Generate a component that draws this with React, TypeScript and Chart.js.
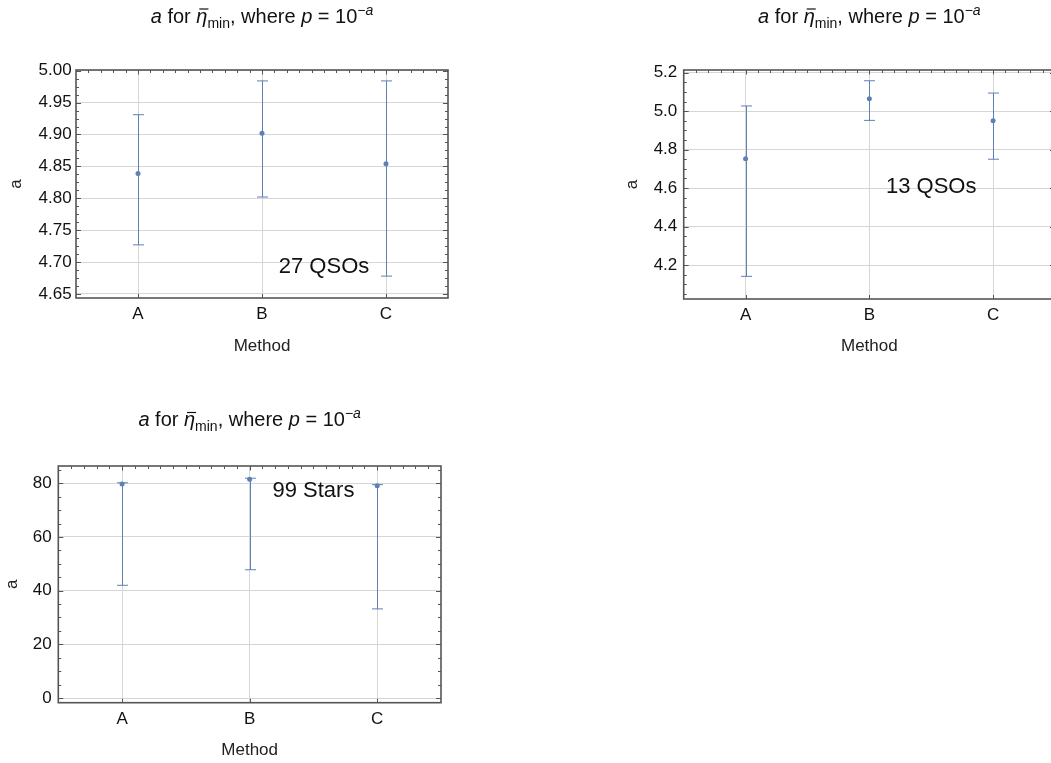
import React, { useEffect, useRef } from "react";
import { Chart, registerables } from "chart.js";

Chart.register(...registerables);

// Categories shared by all three panels
const methods = ["A", "B", "C"];

// 27 QSOs: central value and error-bar bounds of a
const qso27Value = [4.839, 4.902, 4.854];
const qso27Upper = [4.931, 4.984, 4.984];
const qso27Lower = [4.727, 4.802, 4.678];

// 13 QSOs
const qso13Value = [4.753, 5.065, 4.95];
const qso13Upper = [5.027, 5.158, 5.094];
const qso13Lower = [4.141, 4.952, 4.75];

// 99 Stars
const starsValue = [79.7, 81.5, 79.1];
const starsUpper = [80.2, 81.9, 79.5];
const starsLower = [42.0, 47.8, 33.2];

const FONT = '"Liberation Sans", Arial, Helvetica, sans-serif';
const BLUE = "#5e81b5";
const FRAME = "#555555";
const GRID = "#d6d6d6";

type PanelSpec = {
  box: { x: number; y: number; w: number; h: number };
  pad: { left: number; top: number; right: number; bottom: number };
  yWidth: number;
  xHeight: number;
  yTickPad: number;
  xTitlePad: number;
  yMin: number;
  yMax: number;
  yStep: number;
  decimals: number;
  titleBaseline: number;
  values: number[];
  upper: number[];
  lower: number[];
  note: string;
  noteAt: [number, number];
};

const panels: PanelSpec[] = [
  {
    box: { x: 0, y: 0, w: 460, h: 372 },
    pad: { left: 5.8, top: 70, right: 12, bottom: 14 },
    yWidth: 70.2,
    xHeight: 60,
    yTickPad: 4.3,
    xTitlePad: 1.1,
    yMin: 4.6437,
    yMax: 5.0011,
    yStep: 0.05,
    decimals: 2,
    titleBaseline: 22.5,
    values: qso27Value,
    upper: qso27Upper,
    lower: qso27Lower,
    note: "27 QSOs",
    noteAt: [1.5, 4.692],
  },
  {
    box: { x: 600, y: 0, w: 470, h: 372 },
    pad: { left: 21.8, top: 70, right: 15, bottom: 13 },
    yWidth: 61.9,
    xHeight: 60,
    yTickPad: 6.4,
    xTitlePad: 2.1,
    yMin: 4.0232,
    yMax: 5.214,
    yStep: 0.2,
    decimals: 1,
    titleBaseline: 22.5,
    values: qso13Value,
    upper: qso13Upper,
    lower: qso13Lower,
    note: "13 QSOs",
    noteAt: [1.5, 4.607],
  },
  {
    box: { x: 0, y: 395, w: 460, h: 368 },
    pad: { left: 1.8, top: 71, right: 19, bottom: 0.3 },
    yWidth: 56.5,
    xHeight: 60,
    yTickPad: 6.6,
    xTitlePad: 2.5,
    yMin: -1.75,
    yMax: 86.45,
    yStep: 20,
    decimals: 0,
    titleBaseline: 31,
    values: starsValue,
    upper: starsUpper,
    lower: starsLower,
    note: "99 Stars",
    noteAt: [1.5, 77.2],
  },
];

// Title "a for η̄_min, where p = 10^−a" with italics, overbar, sub- and superscript
function drawTitle(ctx: CanvasRenderingContext2D, cx: number, baseline: number) {
  const big = 20;
  const small = 14;
  const parts = [
    { t: "a", f: `italic ${big}px ${FONT}`, dy: 0, bar: false },
    { t: " for ", f: `${big}px ${FONT}`, dy: 0, bar: false },
    { t: "η", f: `italic ${big}px ${FONT}`, dy: 0, bar: true },
    { t: "min", f: `${small}px ${FONT}`, dy: 5, bar: false },
    { t: ", where ", f: `${big}px ${FONT}`, dy: 0, bar: false },
    { t: "p", f: `italic ${big}px ${FONT}`, dy: 0, bar: false },
    { t: " = 10", f: `${big}px ${FONT}`, dy: 0, bar: false },
    { t: "−", f: `${small}px ${FONT}`, dy: -8, bar: false },
    { t: "a", f: `italic ${small}px ${FONT}`, dy: -8, bar: false },
  ];
  ctx.save();
  ctx.textBaseline = "alphabetic";
  ctx.textAlign = "left";
  ctx.fillStyle = "#111";
  let total = 0;
  const widths = parts.map((p) => {
    ctx.font = p.f;
    const w = ctx.measureText(p.t).width;
    total += w;
    return w;
  });
  let x = cx - total / 2;
  parts.forEach((p, i) => {
    ctx.font = p.f;
    ctx.fillText(p.t, x, baseline + p.dy);
    if (p.bar) {
      ctx.strokeStyle = "#111";
      ctx.lineWidth = 1.2;
      ctx.beginPath();
      ctx.moveTo(x + 3, baseline - 13.5);
      ctx.lineTo(x + widths[i] + 1, baseline - 13.5);
      ctx.stroke();
    }
    x += widths[i];
  });
  ctx.restore();
}

function makeOverlay(spec: PanelSpec) {
  return {
    id: "frameAndBars",
    beforeDatasetsDraw(chart: any) {
      const { ctx } = chart;
      const xs = chart.scales.x;
      const ys = chart.scales.y;
      ctx.save();
      ctx.strokeStyle = BLUE;
      ctx.lineWidth = 1;
      spec.values.forEach((_, i) => {
        const px = Math.round(xs.getPixelForValue(i)) + 0.5;
        const top = ys.getPixelForValue(spec.upper[i]);
        const bot = ys.getPixelForValue(spec.lower[i]);
        ctx.beginPath();
        ctx.moveTo(px, top);
        ctx.lineTo(px, bot);
        ctx.moveTo(px - 5.5, top);
        ctx.lineTo(px + 5.5, top);
        ctx.moveTo(px - 5.5, bot);
        ctx.lineTo(px + 5.5, bot);
        ctx.stroke();
      });
      ctx.restore();
    },
    afterDraw(chart: any) {
      const { ctx, chartArea: a } = chart;
      const xs = chart.scales.x;
      const ys = chart.scales.y;
      ctx.save();
      ctx.strokeStyle = FRAME;

      // frame ticks on left and right (major + minor)
      ctx.lineWidth = 1;
      const minor = spec.yStep / 4;
      const k0 = Math.ceil(spec.yMin / minor - 1e-9);
      for (let k = k0; k * minor <= spec.yMax + 1e-9; k++) {
        const v = k * minor;
        const major = k % 4 === 0;
        const len = major ? 5 : 3;
        const py = Math.round(ys.getPixelForValue(v)) + 0.5;
        ctx.beginPath();
        ctx.moveTo(a.left, py);
        ctx.lineTo(a.left + len, py);
        ctx.moveTo(a.right, py);
        ctx.lineTo(a.right - len, py);
        ctx.stroke();
      }
      // top ticks every 0.1 category unit, bottom ticks at categories
      for (let k = -4; k <= 24; k++) {
        const major = k % 10 === 0;
        const px = Math.round(xs.getPixelForValue(k / 10)) + 0.5;
        const len = major ? 4.5 : 3;
        ctx.beginPath();
        ctx.moveTo(px, a.top);
        ctx.lineTo(px, a.top + len);
        if (major) {
          ctx.moveTo(px, a.bottom);
          ctx.lineTo(px, a.bottom - 4);
        }
        ctx.stroke();
      }
      // frame
      ctx.lineWidth = 1.6;
      ctx.strokeRect(a.left, a.top, a.right - a.left, a.bottom - a.top);

      // annotation
      ctx.fillStyle = "#111";
      ctx.font = `22px ${FONT}`;
      ctx.textAlign = "center";
      ctx.textBaseline = "middle";
      ctx.fillText(
        spec.note,
        xs.getPixelForValue(spec.noteAt[0]),
        ys.getPixelForValue(spec.noteAt[1])
      );
      ctx.restore();

      drawTitle(ctx, (a.left + a.right) / 2, spec.titleBaseline);
    },
  };
}

function Panel({ spec }: { spec: PanelSpec }) {
  const ref = useRef<HTMLCanvasElement>(null);
  useEffect(() => {
    if (!ref.current) return;
    const chart = new Chart(ref.current, {
      type: "line",
      data: {
        labels: methods,
        datasets: [
          {
            data: spec.values,
            showLine: false,
            pointRadius: 2.5,
            pointBackgroundColor: BLUE,
            pointBorderWidth: 0,
            borderColor: BLUE,
          },
        ],
      },
      options: {
        responsive: false,
        animation: false,
        layout: { padding: spec.pad },
        plugins: {
          legend: { display: false },
          tooltip: { enabled: false },
        },
        scales: {
          x: {
            type: "category",
            offset: true,
            grid: { display: true, color: GRID, drawTicks: false, offset: false },
            border: { display: false },
            ticks: { padding: 6, color: "#111", font: { family: FONT, size: 17 } },
            title: {
              display: true,
              text: "Method",
              color: "#222",
              font: { family: FONT, size: 17 },
              padding: { top: 0, bottom: spec.xTitlePad },
            },
            afterFit: (s: any) => {
              s.height = spec.xHeight;
            },
          },
          y: {
            type: "linear",
            min: spec.yMin,
            max: spec.yMax,
            grid: { display: true, color: GRID, drawTicks: false },
            border: { display: false },
            ticks: {
              stepSize: spec.yStep,
              includeBounds: false,
              autoSkip: false,
              padding: spec.yTickPad,
              color: "#111",
              font: { family: FONT, size: 17 },
              callback: (v: any) => Number(v).toFixed(spec.decimals),
            },
            title: {
              display: true,
              text: "a",
              color: "#222",
              font: { family: FONT, size: 17 },
              padding: { top: 0, bottom: 0 },
            },
            afterFit: (s: any) => {
              s.width = spec.yWidth;
            },
          },
        },
      },
      plugins: [makeOverlay(spec)],
    } as any);
    return () => chart.destroy();
  }, [spec]);

  return (
    <canvas
      ref={ref}
      width={spec.box.w}
      height={spec.box.h}
      style={{
        position: "absolute",
        left: spec.box.x,
        top: spec.box.y,
        width: spec.box.w,
        height: spec.box.h,
      }}
    />
  );
}

export default function App() {
  return (
    <div
      style={{
        position: "fixed",
        left: 0,
        top: 0,
        width: 1051,
        height: 763,
        overflow: "hidden",
        background: "#fff",
      }}
    >
      {panels.map((p, i) => (
        <Panel key={i} spec={p} />
      ))}
    </div>
  );
}
